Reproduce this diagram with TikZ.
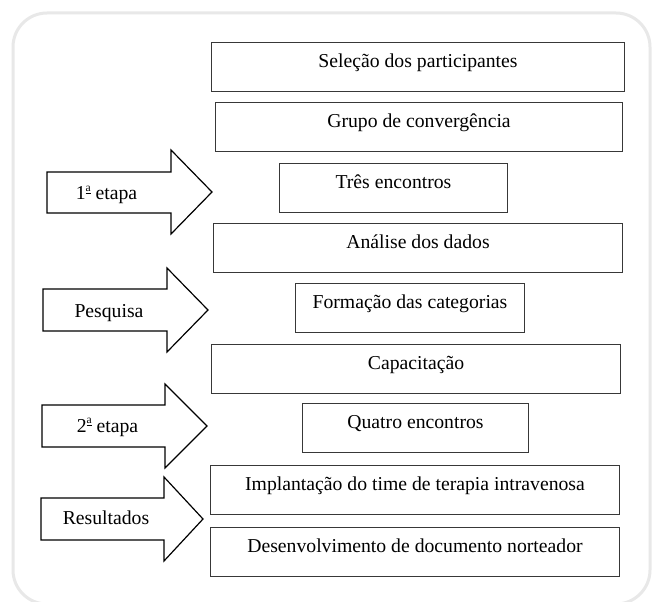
\documentclass[tikz,border=0pt]{standalone}
\usepackage{fontspec}
\setmainfont{Liberation Serif}
\newcommand{\ordsup}{\raisebox{0.42em}{\fontsize{11.5}{12}\selectfont\underline{a}}}
\begin{document}
\begin{tikzpicture}[x=1pt,y=-1pt,
  stepbox/.style={draw=black!78, line width=1pt, inner sep=0pt, anchor=north west,
    text height=25pt, text depth=24pt, font=\fontsize{19.7}{23}\selectfont},
  bigarrow/.style={draw=black, line width=1.2pt, fill=white, line join=miter},
  arrowtext/.style={inner sep=0pt, anchor=base, font=\fontsize{19.7}{23}\selectfont}]
\useasboundingbox (0,0) rectangle (657,602);
\fill[white] (0,0) rectangle (657,602);
\begin{scope}
\clip (0,0) rectangle (657,602);
\draw[draw=black!9, line width=3pt, rounded corners=34pt] (13,13) rectangle (650,604);
\end{scope}
% boxes
\node[stepbox, minimum width=413pt] (b1) at (211,42) {Seleção dos participantes};
\node[stepbox, minimum width=407pt] (b2) at (215,102) {Grupo de convergência};
\node[stepbox, minimum width=228pt] (b3) at (279,163) {Três encontros};
\node[stepbox, minimum width=409pt] (b4) at (213,223) {Análise dos dados};
\node[stepbox, minimum width=229pt] (b5) at (295,283) {Formação das categorias};
\node[stepbox, minimum width=409pt] (b6) at (211,344) {Capacitação};
\node[stepbox, minimum width=226pt] (b7) at (302,403) {Quatro encontros};
\node[stepbox, minimum width=409pt] (b8) at (210,465) {Implantação do time de terapia intravenosa};
\node[stepbox, minimum width=409pt] (b9) at (210,527) {Desenvolvimento de documento norteador};
% arrows
\draw[bigarrow] (47,172) -- (171,172) -- (171,150) -- (212,192) -- (171,234) -- (171,213) -- (47,213) -- cycle;
\node[arrowtext] (a1) at (106.5,200) {1\ordsup\ etapa};
\draw[bigarrow] (43,289) -- (167,289) -- (167,268) -- (208,310) -- (167,352) -- (167,331) -- (43,331) -- cycle;
\node[arrowtext] (a2) at (109,317) {Pesquisa};
\draw[bigarrow] (42,405) -- (165,405) -- (165,384) -- (207,426) -- (165,468) -- (165,447) -- (42,447) -- cycle;
\node[arrowtext] (a3) at (107.5,432) {2\ordsup\ etapa};
\draw[bigarrow] (41,498) -- (164,498) -- (164,477) -- (203,519) -- (164,561) -- (164,540) -- (41,540) -- cycle;
\node[arrowtext] (a4) at (106,524) {Resultados};
\end{tikzpicture}
\end{document}
